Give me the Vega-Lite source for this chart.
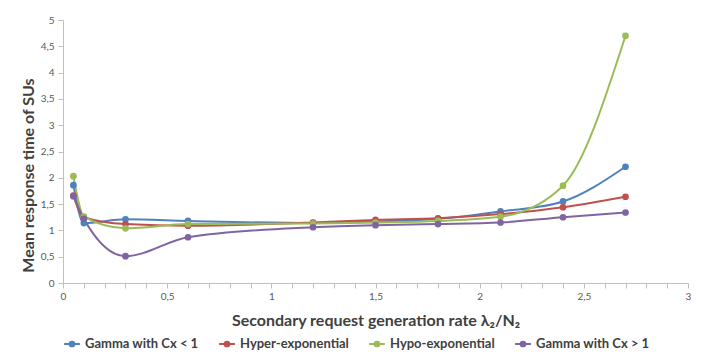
{
  "$schema": "https://vega.github.io/schema/vega-lite/v6.json",
  "width": 625,
  "height": 263,
  "autosize": {"type": "none"},
  "padding": {"left": 63, "top": 20, "right": 14, "bottom": 79},
  "background": "white",
  "config": {
    "font": "Lato",
    "view": {"stroke": null},
    "axis": {"grid": false, "domainColor": "#bfbfbf", "tickColor": "#bfbfbf", "labelColor": "#595959", "labelFontSize": 10, "titleColor": "#404040", "titleFontWeight": "bold"}
  },
  "data": {
    "values": [
      {"series": "Gamma with Cx < 1", "x": 0.05, "y": 1.86},
      {"series": "Gamma with Cx < 1", "x": 0.1, "y": 1.14},
      {"series": "Gamma with Cx < 1", "x": 0.3, "y": 1.21},
      {"series": "Gamma with Cx < 1", "x": 0.6, "y": 1.18},
      {"series": "Gamma with Cx < 1", "x": 1.2, "y": 1.14},
      {"series": "Gamma with Cx < 1", "x": 1.5, "y": 1.17},
      {"series": "Gamma with Cx < 1", "x": 1.8, "y": 1.22},
      {"series": "Gamma with Cx < 1", "x": 2.1, "y": 1.36},
      {"series": "Gamma with Cx < 1", "x": 2.4, "y": 1.55},
      {"series": "Gamma with Cx < 1", "x": 2.7, "y": 2.21},
      {"series": "Hyper-exponential", "x": 0.05, "y": 1.66},
      {"series": "Hyper-exponential", "x": 0.1, "y": 1.25},
      {"series": "Hyper-exponential", "x": 0.3, "y": 1.12},
      {"series": "Hyper-exponential", "x": 0.6, "y": 1.09},
      {"series": "Hyper-exponential", "x": 1.2, "y": 1.15},
      {"series": "Hyper-exponential", "x": 1.5, "y": 1.2},
      {"series": "Hyper-exponential", "x": 1.8, "y": 1.23},
      {"series": "Hyper-exponential", "x": 2.1, "y": 1.31},
      {"series": "Hyper-exponential", "x": 2.4, "y": 1.44},
      {"series": "Hyper-exponential", "x": 2.7, "y": 1.64},
      {"series": "Hypo-exponential", "x": 0.05, "y": 2.03},
      {"series": "Hypo-exponential", "x": 0.1, "y": 1.26},
      {"series": "Hypo-exponential", "x": 0.3, "y": 1.04},
      {"series": "Hypo-exponential", "x": 0.6, "y": 1.12},
      {"series": "Hypo-exponential", "x": 1.2, "y": 1.13},
      {"series": "Hypo-exponential", "x": 1.5, "y": 1.15},
      {"series": "Hypo-exponential", "x": 1.8, "y": 1.18},
      {"series": "Hypo-exponential", "x": 2.1, "y": 1.26},
      {"series": "Hypo-exponential", "x": 2.4, "y": 1.85},
      {"series": "Hypo-exponential", "x": 2.7, "y": 4.7},
      {"series": "Gamma with Cx > 1", "x": 0.05, "y": 1.65},
      {"series": "Gamma with Cx > 1", "x": 0.1, "y": 1.22},
      {"series": "Gamma with Cx > 1", "x": 0.3, "y": 0.51},
      {"series": "Gamma with Cx > 1", "x": 0.6, "y": 0.87},
      {"series": "Gamma with Cx > 1", "x": 1.2, "y": 1.06},
      {"series": "Gamma with Cx > 1", "x": 1.5, "y": 1.1},
      {"series": "Gamma with Cx > 1", "x": 1.8, "y": 1.12},
      {"series": "Gamma with Cx > 1", "x": 2.1, "y": 1.15},
      {"series": "Gamma with Cx > 1", "x": 2.4, "y": 1.25},
      {"series": "Gamma with Cx > 1", "x": 2.7, "y": 1.34}
    ]
  },
  "mark": {"type": "line", "interpolate": "monotone", "strokeWidth": 2, "point": {"filled": true, "size": 45}},
  "encoding": {
    "x": {
      "field": "x", "type": "quantitative",
      "scale": {"domain": [0, 3], "nice": false, "zero": true},
      "axis": {
        "values": [0, 0.1, 0.2, 0.3, 0.4, 0.5, 0.6, 0.7, 0.8, 0.9, 1, 1.1, 1.2, 1.3, 1.4, 1.5, 1.6, 1.7, 1.8, 1.9, 2, 2.1, 2.2, 2.3, 2.4, 2.5, 2.6, 2.7, 2.8, 2.9, 3],
        "labelExpr": "abs(datum.value*2 - round(datum.value*2)) < 0.001 ? replace(format(datum.value, ''), '.', ',') : ''",
        "labelFlush": false,
        "labelOverlap": false,
        "tickSize": 5,
        "labelPadding": 3,
        "title": "Secondary request generation rate  λ₂/N₂",
        "titleFontSize": 16,
        "titlePadding": 11
      }
    },
    "y": {
      "field": "y", "type": "quantitative",
      "scale": {"domain": [0, 5], "nice": false},
      "axis": {
        "values": [0, 0.5, 1, 1.5, 2, 2.5, 3, 3.5, 4, 4.5, 5],
        "labelExpr": "replace(format(datum.value, ''), '.', ',')",
        "tickSize": 5,
        "labelPadding": 4,
        "title": "Mean response time of SUs",
        "titleFontSize": 16,
        "titlePadding": 4,
        "titleY": 155
      }
    },
    "color": {
      "field": "series", "type": "nominal",
      "scale": {"domain": ["Gamma with Cx < 1", "Hyper-exponential", "Hypo-exponential", "Gamma with Cx > 1"], "range": ["#4F81BD", "#C0504D", "#9BBB59", "#8064A2"]},
      "legend": {
        "orient": "bottom", "direction": "horizontal", "title": null,
        "labelFontSize": 13, "labelFontWeight": "bold", "labelColor": "#404040",
        "symbolType": "M-1,0H1M-0.3,0A0.3,0.3 0 1,1 0.3,0A0.3,0.3 0 1,1 -0.3,0",
        "symbolSize": 250, "symbolStrokeWidth": 2, "columnPadding": 16, "offset": 7
      }
    }
  }
}
